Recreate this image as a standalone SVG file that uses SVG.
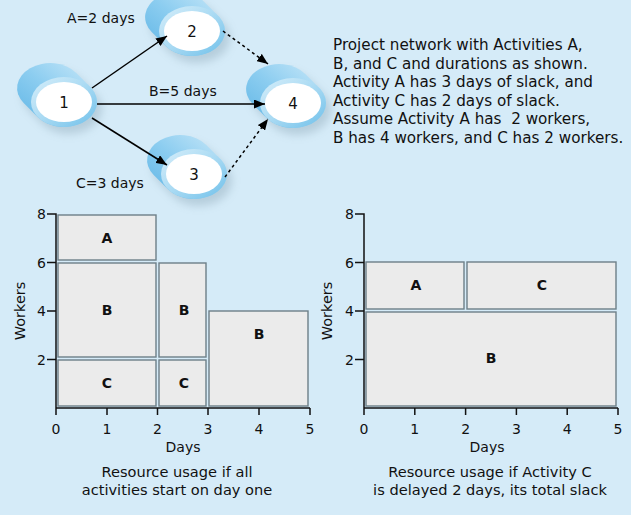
<svg xmlns="http://www.w3.org/2000/svg" width="631" height="515" viewBox="0 0 631 515">
<style>
text{font-family:"DejaVu Sans","Open Sans",sans-serif;fill:#111;}
.t15{font-size:14px;}
.para{font-size:15.2px;}
.num{font-size:14px;text-anchor:middle;}
.cap{font-size:14.6px;text-anchor:middle;}
.wk{font-size:14.5px;text-anchor:middle;}
.ylab{font-size:14px;text-anchor:end;}
.node{font-size:15px;text-anchor:middle;}
.bar{fill:#ebebeb;stroke:#6d7f88;stroke-width:1.4;}
.bl{font-size:14px;font-weight:bold;text-anchor:middle;}
.axis{fill:none;stroke:#111;stroke-width:1.5;}
.conn{stroke:#000;stroke-width:1.5;fill:none;marker-end:url(#ah);}
.dash{stroke-dasharray:3 3;}
.body{fill:url(#bodyG);}
.rim{fill:url(#rimG);}
.face{fill:#fff;}
</style>
<defs>
<linearGradient id="bodyG" x1="0" y1="1" x2="1" y2="0">
<stop offset="0" stop-color="#5db4e5"/>
<stop offset="0.5" stop-color="#8ccdf0"/>
<stop offset="1" stop-color="#cbe9f9"/>
</linearGradient>
<linearGradient id="rimG" x1="0" y1="0" x2="1" y2="1">
<stop offset="0" stop-color="#d6eefa"/>
<stop offset="0.5" stop-color="#a9daf3"/>
<stop offset="1" stop-color="#6fc0ea"/>
</linearGradient>
<filter id="sh" x="-50%" y="-50%" width="200%" height="200%">
<feGaussianBlur stdDeviation="4"/>
</filter>
<marker id="ah" markerUnits="userSpaceOnUse" markerWidth="11" markerHeight="9" refX="11" refY="4.5" orient="auto">
<path d="M0,0 L11,4.5 L0,9 z" fill="#000"/>
</marker>
<g id="cyl">
<path d="M26.3,-15.1 L12.3,-29.1 A33 25 0 0 0 -40.3,1.1 L-26.3,15.1 A33 25 0 0 0 26.3,-15.1 Z" transform="translate(5,7)" fill="#7d98a8" opacity="0.35" filter="url(#sh)"/>
<path class="body" d="M26.3,-15.1 L12.3,-29.1 A33 25 0 0 0 -40.3,1.1 L-26.3,15.1 A33 25 0 0 0 26.3,-15.1 Z"/>
<ellipse class="rim" cx="0" cy="0" rx="33" ry="25"/>
<ellipse class="face" cx="0" cy="0" rx="28" ry="20"/>
</g>
</defs>
<rect width="631" height="515" fill="#d5ebf8"/>

<g id="node1"><use href="#cyl" x="64" y="102"/><text class="node" x="64" y="108">1</text></g>
<g id="node2"><use href="#cyl" x="192" y="31"/><text class="node" x="192" y="37">2</text></g>
<g id="node3"><use href="#cyl" x="194" y="174"/><text class="node" x="194" y="180">3</text></g>
<g id="node4"><use href="#cyl" x="293" y="103"/><text class="node" x="293" y="109">4</text></g>

<g id="connectors">
<path class="conn" d="M92,88 L167,36"/>
<path class="conn" d="M97,104 L265,104"/>
<path class="conn" d="M92,118 L167,165"/>
<path class="conn dash" d="M223,31 L268,64"/>
<path class="conn dash" d="M225,177 L268,119"/>
</g>

<g id="edge-labels">
<text class="t15" x="67" y="23">A=2 days</text>
<text class="t15" x="149" y="96">B=5 days</text>
<text class="t15" x="76" y="188">C=3 days</text>
</g>

<g id="note">
<text class="para" x="333" y="50">Project network with Activities A,</text>
<text class="para" x="333" y="68.6">B, and C and durations as shown.</text>
<text class="para" x="333" y="87.2">Activity A has 3 days of slack, and</text>
<text class="para" x="333" y="105.8">Activity C has 2 days of slack.</text>
<text class="para" x="333" y="124.4" style="white-space:pre">Assume Activity A has  2 workers,</text>
<text class="para" x="333" y="143">B has 4 workers, and C has 2 workers.</text>
</g>

<g id="chart-left">
<rect class="bar" x="58" y="215" width="98" height="45"/>
<rect class="bar" x="58" y="263" width="98" height="94"/>
<rect class="bar" x="58" y="360" width="98" height="46"/>
<rect class="bar" x="159" y="263" width="47" height="94"/>
<rect class="bar" x="159" y="360" width="47" height="46"/>
<rect class="bar" x="209" y="311" width="99" height="95"/>
<text class="bl" x="107" y="243">A</text>
<text class="bl" x="107" y="315">B</text>
<text class="bl" x="107" y="388">C</text>
<text class="bl" x="184" y="315">B</text>
<text class="bl" x="184" y="388">C</text>
<text class="bl" x="259" y="339">B</text>
<path class="axis" d="M47,214 H56 V408 H310 M47,262.5 H56 M47,311 H56 M47,359.5 H56 M56,408 V415 M107,408 V415 M157.5,408 V415 M208,408 V415 M259,408 V415 M310,408 V415"/>
<text class="ylab" x="46" y="219">8</text>
<text class="ylab" x="46" y="267.5">6</text>
<text class="ylab" x="46" y="316">4</text>
<text class="ylab" x="46" y="364.5">2</text>
<text class="num" x="56" y="434">0</text>
<text class="num" x="107" y="434">1</text>
<text class="num" x="157.5" y="434">2</text>
<text class="num" x="208" y="434">3</text>
<text class="num" x="259" y="434">4</text>
<text class="num" x="310" y="434">5</text>
<text class="num" x="183" y="452">Days</text>
<text class="wk" transform="translate(25,311) rotate(-90)">Workers</text>
<text class="cap" x="177" y="477">Resource usage if all</text>
<text class="cap" x="177" y="494.5">activities start on day one</text>
</g>

<g id="chart-right">
<rect class="bar" x="366" y="262" width="98" height="47"/>
<rect class="bar" x="467" y="262" width="149" height="47"/>
<rect class="bar" x="366" y="312" width="250" height="94"/>
<text class="bl" x="416" y="290">A</text>
<text class="bl" x="542" y="290">C</text>
<text class="bl" x="491" y="363">B</text>
<path class="axis" d="M355,214 H364 V408 H618 M355,262.5 H364 M355,311 H364 M355,359.5 H364 M364,408 V415 M414.8,408 V415 M465.6,408 V415 M516.4,408 V415 M567.2,408 V415 M618,408 V415"/>
<text class="ylab" x="354" y="219">8</text>
<text class="ylab" x="354" y="267.5">6</text>
<text class="ylab" x="354" y="316">4</text>
<text class="ylab" x="354" y="364.5">2</text>
<text class="num" x="364" y="434">0</text>
<text class="num" x="414.8" y="434">1</text>
<text class="num" x="465.6" y="434">2</text>
<text class="num" x="516.4" y="434">3</text>
<text class="num" x="567.2" y="434">4</text>
<text class="num" x="618" y="434">5</text>
<text class="num" x="487" y="452">Days</text>
<text class="wk" transform="translate(332,311) rotate(-90)">Workers</text>
<text class="cap" x="490" y="477">Resource usage if Activity C</text>
<text class="cap" x="490" y="494.5">is delayed 2 days, its total slack</text>
</g>
</svg>
